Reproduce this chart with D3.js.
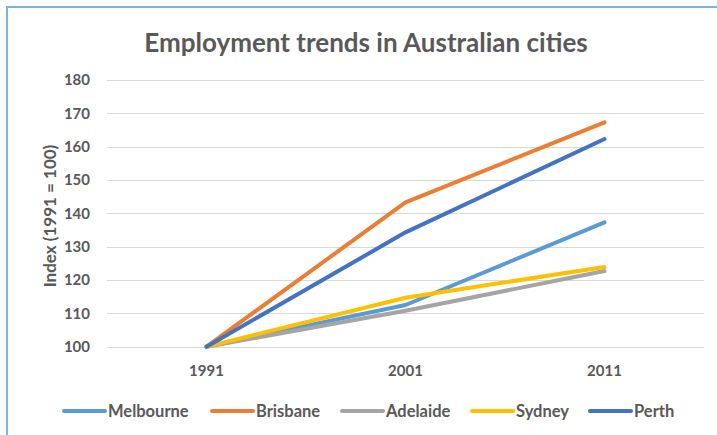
<!DOCTYPE html>
<html><head><meta charset="utf-8">
<script src="https://cdn.jsdelivr.net/npm/d3@7"></script>
<style>body{margin:0;background:#fff;}svg{display:block;}text{font-family:Lato,"Open Sans",sans-serif;}</style>
</head><body>
<script>
const years = ["1991", "2001", "2011"];
const cities = ["Melbourne", "Brisbane", "Adelaide", "Sydney", "Perth"];
const melbourne = [100, 112.5, 137.3];
const brisbane = [100, 143.3, 167.3];
const adelaide = [100, 110.8, 122.7];
const sydney = [100, 114.7, 123.9];
const perth = [100, 134.3, 162.3];
const yTicks = [100, 110, 120, 130, 140, 150, 160, 170, 180];
const colors = ["#5B9BD5", "#ED7D31", "#A5A5A5", "#FFC000", "#4472C4"];
const seriesValues = [melbourne, brisbane, adelaide, sydney, perth];

const W = 717, H = 435;
const svg = d3.select("body").append("svg").attr("width", W).attr("height", H);
svg.append("rect").attr("x", 7).attr("y", 7).attr("width", 740).attr("height", 460)
  .attr("fill", "#fff").attr("stroke", "#7DB3E3").attr("stroke-width", 2);

const x = d3.scaleBand().domain(years).range([107, 704]);
const y = d3.scaleLinear().domain([100, 180]).range([346.7, 80]);

// gridlines
svg.append("g").selectAll("line").data(yTicks).join("line")
  .attr("x1", 107).attr("x2", 704)
  .attr("y1", d => Math.round(y(d)) + 0.5).attr("y2", d => Math.round(y(d)) + 0.5)
  .attr("stroke", "#D9D9D9").attr("stroke-width", 1);

// y axis labels
const yAxis = d3.axisLeft(y).tickValues(yTicks).tickSize(0).tickPadding(0);
const gy = svg.append("g").attr("transform", "translate(90,0)").call(yAxis);
gy.select(".domain").remove();
gy.selectAll("text").attr("fill", "#595959").attr("font-size", 15).attr("font-weight", "bold")
  .style("font-family", "Lato, sans-serif");

// x axis labels
const xAxis = d3.axisBottom(x).tickSize(0).tickPadding(0);
const gx = svg.append("g").attr("transform", "translate(0,362)").call(xAxis);
gx.select(".domain").remove();
gx.selectAll("text").attr("fill", "#595959").attr("font-size", 15).attr("font-weight", "bold")
  .attr("dy", "0.95em")
  .style("font-family", "Lato, sans-serif");

// lines
const line = d3.line().x((d, i) => x(years[i]) + x.bandwidth() / 2).y(d => y(d));
svg.append("g").selectAll("path").data(seriesValues).join("path")
  .attr("d", d => line(d)).attr("fill", "none")
  .attr("stroke", (d, i) => colors[i]).attr("stroke-width", 4)
  .attr("stroke-linecap", "round").attr("stroke-linejoin", "round");

// title
svg.append("text").attr("x", 366).attr("y", 52).attr("text-anchor", "middle")
  .attr("font-size", 26).attr("font-weight", "bold").attr("fill", "#595959")
  .text("Employment trends in Australian cities");

// y axis title
svg.append("text").attr("transform", "translate(56,216) rotate(-90)").attr("text-anchor", "middle")
  .attr("font-size", 17).attr("font-weight", "bold").attr("fill", "#595959")
  .text("Index (1991 = 100)");

// legend
const legX = [64, 212, 342, 472, 590];
const leg = svg.append("g").selectAll("g").data(cities).join("g")
  .attr("transform", (d, i) => `translate(${legX[i]},411)`);
leg.append("line").attr("x1", 0).attr("x2", 41).attr("y1", 0).attr("y2", 0)
  .attr("stroke", (d, i) => colors[i]).attr("stroke-width", 4).attr("stroke-linecap", "round");
leg.append("text").attr("x", 44).attr("y", 6).attr("font-size", 16.5).attr("font-weight", "bold")
  .attr("fill", "#595959").text(d => d);
</script>
</body></html>
